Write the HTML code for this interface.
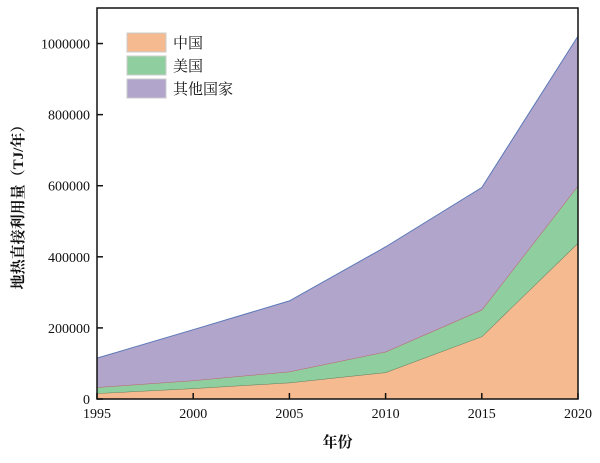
<!DOCTYPE html>
<html><head><meta charset="utf-8"><style>
body{margin:0;background:#fff;}
svg text{font-family:"Liberation Serif","Noto Serif CJK SC",serif;fill:#111;}
</style></head><body>
<svg id="chart" width="600" height="458"></svg>
<script>
const years=[1995,2000,2005,2010,2015,2020];
const china=[16000,30000,46000,75000,176000,439000];
const usa=[17000,22000,31000,58000,75000,161000];
const others=[82000,143000,199000,295000,344000,421000];
const yTicks=[0,200000,400000,600000,800000,1000000];
const xTicks=[1995,2000,2005,2010,2015,2020];
const L=97,R=578,T=8,B=399,YMAX=1100000;
const sx=v=>L+(v-1995)/(2020-1995)*(R-L);
const sy=v=>B-v/YMAX*(B-T);
const svg=document.getElementById('chart');
const NS='http://www.w3.org/2000/svg';
function mk(tag,attrs,parent){const e=document.createElementNS(NS,tag);for(const k in attrs)e.setAttribute(k,attrs[k]);(parent||svg).appendChild(e);return e;}
const c1=china, c2=china.map((v,i)=>v+usa[i]), c3=c2.map((v,i)=>v+others[i]);
function area(lo,hi,fill,stroke,name){
  let d='M'+years.map((y,i)=>sx(y)+','+sy(hi[i])).join('L');
  d+='L'+years.slice().reverse().map((y,j)=>{const i=years.length-1-j;return sx(y)+','+sy(lo[i]);}).join('L')+'Z';
  const p=mk('path',{d:d,fill:fill,stroke:'none'});
  
  
  const l=mk('polyline',{points:years.map((y,i)=>sx(y)+','+sy(hi[i])).join(' '),fill:'none',stroke:stroke,'stroke-width':1});
  
  
}
area(years.map(()=>0),c1,'#F5BA8F','#5f7a5f','china');
area(c1,c2,'#8FCF9F','#c0606a','usa');
area(c2,c3,'#B1A5CB','#5a78b8','others');
const frame=mk('rect',{x:L,y:T,width:R-L,height:B-T,fill:'none',stroke:'#111','stroke-width':1.5});


yTicks.forEach(v=>{
  const t=mk('line',{x1:L,x2:L+6,y1:sy(v),y2:sy(v),stroke:'#111','stroke-width':1.5});
  
  
  const tx=mk('text',{x:L-7,y:sy(v)+5,'text-anchor':'end','font-size':14});
  tx.textContent=v;
  
  
});
xTicks.forEach(v=>{
  const t=mk('line',{x1:sx(v),x2:sx(v),y1:B,y2:B-6,stroke:'#111','stroke-width':1.5});
  
  
  const tx=mk('text',{x:sx(v),y:B+19,'text-anchor':'middle','font-size':14});
  tx.textContent=v;
  
  
});
const xt=mk('text',{x:(L+R)/2,y:447,'text-anchor':'middle','font-size':15,'font-weight':'bold'});
xt.textContent='年份';


const yt=mk('text',{x:0,y:0,'text-anchor':'middle','font-size':15,'font-weight':'bold',transform:'translate(23,'+(T+B)/2+') rotate(-90)'});
yt.textContent='地热直接利用量（TJ/年）';


const legend=[['中国','#F5BA8F'],['美国','#8FCF9F'],['其他国家','#B1A5CB']];
legend.forEach((e,i)=>{
  const y=33+i*23;
  const r=mk('rect',{x:127,y:y,width:39,height:19,fill:e[1],stroke:'#ccc','stroke-width':1});
  
  
  const t=mk('text',{x:173,y:y+15,'font-size':15});
  t.textContent=e[0];
  
  
});
</script>
</body></html>
